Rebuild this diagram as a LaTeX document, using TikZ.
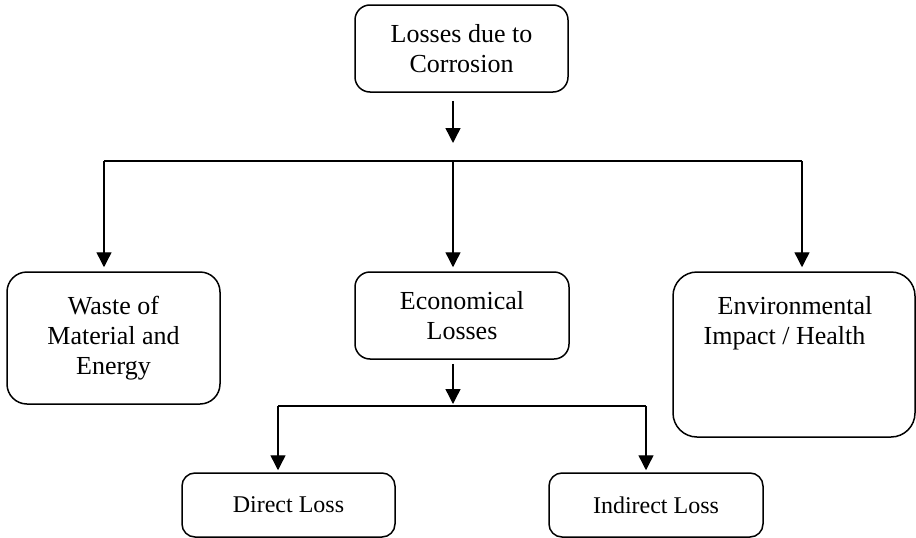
\documentclass[tikz,border=0pt]{standalone}
\usepackage{fontspec}
\setmainfont{Liberation Serif}
\usetikzlibrary{arrows.meta}
\begin{document}
\begin{tikzpicture}[x=1pt,y=-1pt,
  box/.style={draw, line width=1.5pt, rounded corners=15pt, inner sep=0pt, align=center,
    font=\fontsize{26}{30}\selectfont},
  smallbox/.style={box, rounded corners=13pt, font=\fontsize{24}{28}\selectfont},
  conn/.style={line width=1.4pt},
  arr/.style={conn, -{Triangle[width=15pt,length=15pt]}}]
\useasboundingbox (0,0) rectangle (916,538);
% boxes
\node[box, minimum width=213pt, minimum height=87pt] (top) at (461.5,48.5) {Losses due to\\Corrosion};
\node[box, rounded corners=20pt, minimum width=213pt, minimum height=132pt] (waste) at (113.5,338) {Waste of\\Material and\\Energy};
\node[box, minimum width=214pt, minimum height=87pt] (econ) at (462,315.5) {Economical\\Losses};
\node[box, rounded corners=24pt, minimum width=242pt, minimum height=165pt] (env) at (794,354.5) {};
\node[font=\fontsize{26}{30}\selectfont, align=center, anchor=north, inner sep=0pt] (envtext) at (795,296) {Environmental\\Impact / Health\hspace*{21pt}};
\node[smallbox, minimum width=213pt, minimum height=64pt] (direct) at (288.5,505) {Direct Loss};
\node[smallbox, minimum width=214pt, minimum height=64pt] (indirect) at (656,505) {Indirect Loss};
% junction coordinates
\coordinate (bus1) at (453,161);
\coordinate (bL) at (104,161);
\coordinate (bR) at (802,161);
\coordinate (bus2) at (453,406);
\coordinate (cL) at (278,406);
\coordinate (cR) at (646,406);
% connectors
\draw[arr, shorten <=8pt, shorten >=18pt] (top.south -| bus1) -- (bus1);
\draw[conn] (bL) -- (bR);
\draw[arr, shorten >=4pt] (bL) -- (bL |- waste.north);
\draw[arr, shorten >=4pt] (bus1) -- (bus1 |- econ.north);
\draw[arr, shorten >=4pt] (bR) -- (bR |- env.north);
\draw[arr, shorten <=4pt, shorten >=2pt] (econ.south -| bus2) -- (bus2);
\draw[conn] (cL) -- (cR);
\draw[arr, shorten >=2pt] (cL) -- (cL |- direct.north);
\draw[arr, shorten >=2pt] (cR) -- (cR |- indirect.north);
\end{tikzpicture}
\end{document}
